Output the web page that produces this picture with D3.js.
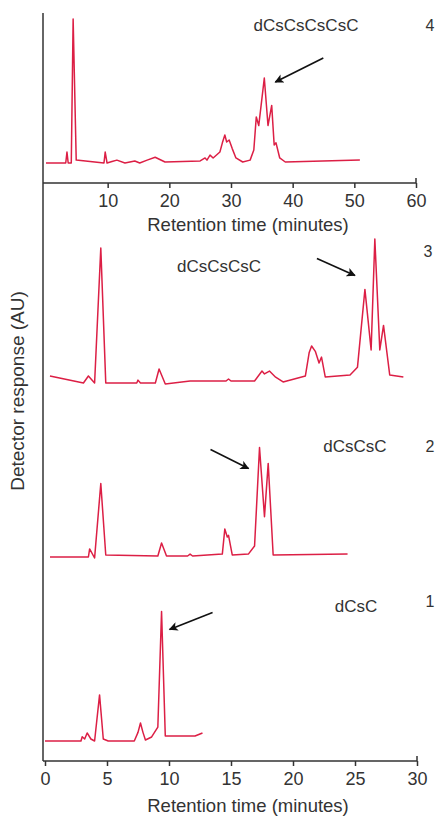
<!DOCTYPE html>
<html>
<head>
<meta charset="utf-8">
<script src="https://cdn.jsdelivr.net/npm/d3@7"></script>
<style>
  body { margin: 0; background: #fff; }
  text { fill: #333; font-family: "Liberation Sans", Arial, sans-serif; }
</style>
</head>
<body>
<div id="chart"></div>
<script>
// retention time (min) and detector response (AU) for each run
var time1 = [0, 2.9, 3.0, 3.2, 3.4, 3.7, 4.0, 4.4, 4.7, 5.1, 7.2, 7.5, 7.7, 7.9, 8.1, 8.6, 9.1, 9.4, 9.7, 12.1, 12.7];
var resp1 = [0, 0, 3, 1.4, 5.6, 1.4, 0, 32, 1.4, 0, 0, 6, 12.5, 6, 0.7, 2.8, 9.7, 90, 3.5, 3.5, 5.6];

var time2 = [0.4, 3.5, 3.6, 4.0, 4.5, 4.9, 9.1, 9.4, 9.8, 11.5, 11.7, 11.9, 14.3, 14.5, 14.7, 14.8, 15.1, 16.4, 16.9, 17.3, 17.7, 18.0, 18.4, 24.4];
var resp2 = [0, 0, 5.6, -0.7, 51, 1.4, 0.7, 9.7, 0.7, 0.7, 2, 0.7, 2, 19.4, 13.9, 15, 1.4, 2, 7.6, 76, 28, 65, 1.4, 2];

var time3 = [0.4, 3.1, 3.5, 4.0, 4.5, 4.9, 7.4, 7.5, 7.7, 8.9, 9.2, 9.7, 11.7, 14.6, 14.8, 15.0, 16.9, 17.5, 17.7, 18.1, 18.6, 19.2, 21.0, 21.3, 21.5, 21.8, 22.1, 22.3, 22.6, 24.6, 25.2, 25.8, 26.3, 26.6, 27.0, 27.3, 27.8, 28.9];
var resp3 = [4.9, 0, 4.9, 0, 93.8, 0, 0, 2, 0, 0, 9.7, -0.7, 1.4, 1.4, 2.8, 1.4, 1.4, 8.3, 6.3, 8.3, 4, 0.7, 4.9, 21, 25.7, 22, 13.9, 18, 4.2, 5.6, 11, 65, 23, 100, 23, 40, 5.6, 4.2];

var time4 = [0, 3.2, 3.4, 3.6, 4.1, 4.4, 4.9, 9.4, 9.6, 9.9, 10.7, 11.5, 12.8, 14.4, 15.2, 16.4, 17.7, 19.3, 25.0, 25.8, 26.1, 26.6, 27.1, 28.2, 28.6, 29.0, 29.3, 29.7, 30.2, 30.8, 31.9, 33.1, 33.7, 34.1, 34.5, 35.4, 36.0, 36.6, 37.0, 37.3, 37.9, 38.8, 50.9];
var resp4 = [0, 0, 7.6, 0, 0, 100, 2, 0, 7.6, 0, 1, 2, 0, 1.4, 0, 2, 4, 0.7, 1.4, 3.5, 2, 5.5, 3.5, 7.6, 14, 19.4, 14.6, 16, 10, 3.5, 0.7, 2, 9, 32, 26, 59, 26, 40, 12.5, 14, 3.5, 0.7, 2];

var compounds = ["dCsC", "dCsCsC", "dCsCsCsC", "dCsCsCsCsC"];
var runNumbers = ["1", "2", "3", "4"];
// peak each arrow points at: [time, response]
var arrowTimes = [9.4, 17.3, 25.8, 35.4];
var arrowResp = [90, 76, 65, 59];

var ticksTop = [10, 20, 30, 40, 50, 60];
var ticksBottom = [0, 5, 10, 15, 20, 25, 30];
var xTitle = "Retention time (minutes)";
var yTitle = "Detector response (AU)";

var width = 438, height = 817;
var svg = d3.select("#chart").append("svg")
  .attr("width", width)
  .attr("height", height);

var defs = svg.append("defs");
defs.append("marker")
  .attr("id", "head")
  .attr("viewBox", "0 0 10 10")
  .attr("refX", 9).attr("refY", 5)
  .attr("markerWidth", 12).attr("markerHeight", 9)
  .attr("markerUnits", "userSpaceOnUse")
  .attr("orient", "auto")
  .append("path")
  .attr("d", "M0,0 L10,5 L0,10 L2.5,5 Z")
  .attr("fill", "#111");

// x scales: top run uses the 0-60 axis, the three lower runs share 0-30
var xTop = d3.scaleLinear().domain([0, 60]).range([46, 416]);
var xBottom = d3.scaleLinear().domain([0, 30]).range([45, 417]);

// one panel per run (baseline pixel, label spots, arrow offsets)
var panels = [
  {x: xBottom, base: 741, t: time1, r: resp1, lab: [356, 612], num: [430, 607], tip: [8, 18], tail: [43, -17]},
  {x: xBottom, base: 557, t: time2, r: resp2, lab: [355, 452], num: [430, 452], tip: [-11, 21], tail: [-38, -19]},
  {x: xBottom, base: 383, t: time3, r: resp3, lab: [219, 272], num: [428, 257], tip: [-10, -14], tail: [-38, -17]},
  {x: xTop, base: 163, t: time4, r: resp4, lab: [306, 31], num: [430, 31], tip: [11, 4], tail: [48, -24]}
];

panels.forEach(function(p, i) {
  var y = d3.scaleLinear().domain([0, 100]).range([p.base, p.base - 144]);
  var pts = p.t.map(function(d, j) { return [d, p.r[j]]; });

  var line = d3.line()
    .x(function(d) { return p.x(d[0]); })
    .y(function(d) { return y(d[1]); });

  svg.append("path")
    .datum(pts)
    .attr("d", line)
    .attr("fill", "none")
    .attr("stroke", "#dc1f45")
    .attr("stroke-width", 1.5)
    .attr("stroke-linejoin", "round");

  // arrow
  var px = p.x(arrowTimes[i]) + p.tip[0];
  var py = y(arrowResp[i]) + p.tip[1];
  svg.append("line")
    .attr("x1", px + p.tail[0]).attr("y1", py + p.tail[1])
    .attr("x2", px).attr("y2", py)
    .attr("stroke", "#111")
    .attr("stroke-width", 1.6)
    .attr("marker-end", "url(#head)");

  svg.append("text")
    .attr("x", p.lab[0]).attr("y", p.lab[1])
    .attr("text-anchor", "middle")
    .style("font-size", "17px")
    .text(compounds[i]);

  svg.append("text")
    .attr("x", p.num[0]).attr("y", p.num[1])
    .attr("text-anchor", "middle")
    .style("font-size", "16px")
    .text(runNumbers[i]);
});

// axes
var topAxis = d3.axisBottom(xTop).tickValues(ticksTop).tickSize(5).tickPadding(6);
var gTop = svg.append("g").attr("transform", "translate(0,183)").call(topAxis);
gTop.select(".domain").attr("d", "M43,0H416V-5");

var bottomAxis = d3.axisBottom(xBottom).tickValues(ticksBottom).tickSize(5).tickPadding(6);
var gBottom = svg.append("g").attr("transform", "translate(0,761)").call(bottomAxis);
gBottom.select(".domain").attr("d", "M43,0H417V-5");

[gTop, gBottom].forEach(function(g) {
  g.selectAll(".domain, .tick line").attr("stroke", "#333").attr("stroke-width", 1.5);
  g.selectAll(".tick text")
    .attr("fill", "#333")
    .style("font-family", "'Liberation Sans Narrow', 'Liberation Sans', sans-serif")
    .style("font-size", "18px");
});

svg.append("line")
  .attr("x1", 43).attr("x2", 43)
  .attr("y1", 13).attr("y2", 761)
  .attr("stroke", "#333")
  .attr("stroke-width", 1.5);

svg.append("text")
  .attr("x", 248).attr("y", 231)
  .attr("text-anchor", "middle")
  .style("font-size", "18.5px")
  .text(xTitle);

svg.append("text")
  .attr("x", 248).attr("y", 812)
  .attr("text-anchor", "middle")
  .style("font-size", "18.5px")
  .text(xTitle);

svg.append("text")
  .attr("transform", "translate(24,391) rotate(-90)")
  .attr("text-anchor", "middle")
  .style("font-size", "19px")
  .text(yTitle);
</script>
</body>
</html>
